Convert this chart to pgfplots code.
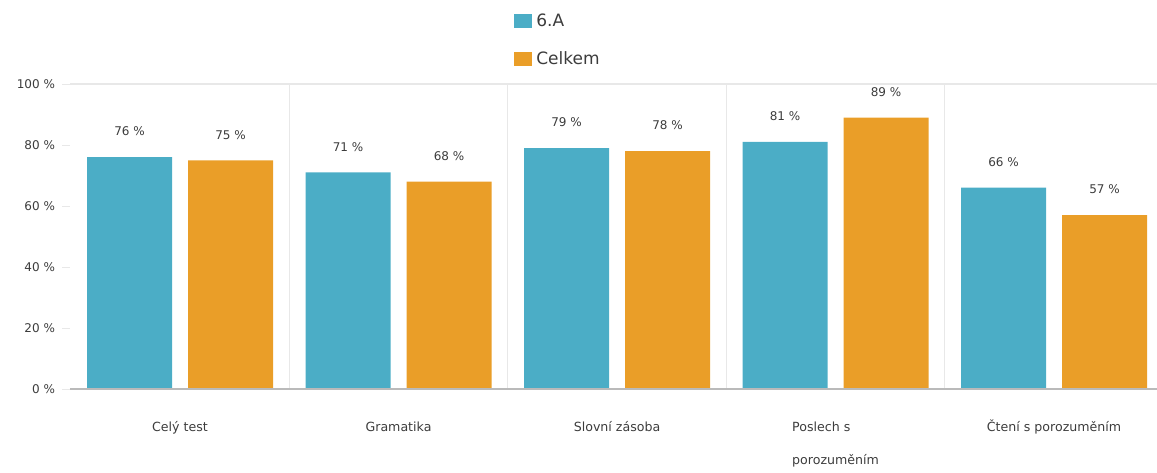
\documentclass[border=0pt]{standalone}
\usepackage{pgfplots}
\pgfplotsset{compat=1.18}
\usepackage{fontspec}
\setmainfont{DejaVu Sans}
\definecolor{cblue}{RGB}{75,173,198}
\definecolor{corange}{RGB}{234,158,40}
\definecolor{txt}{RGB}{60,60,60}
\definecolor{gridc}{RGB}{232,232,232}
\begin{document}
\begin{tikzpicture}
\begin{axis}[
  scale only axis,
  anchor=south west,
  at={(0,0)},
  width=543.5pt, height=152.5pt,
  ybar=8pt, bar width=42.5pt,
  xmin=-0.5034, xmax=4.471,
  ymin=0, ymax=100,
  axis line style={draw=none},
  xtick={0,1,2,3,4},
  xticklabels={\vphantom{Čý}Celý test,\vphantom{Čý}Gramatika,\vphantom{Čý}Slovní zásoba,{\vphantom{Čý}Poslech s\\porozuměním},\vphantom{Čý}Čtení s porozuměním},
  xticklabel style={font=\fontsize{6.3}{16.5}\selectfont, text=txt, align=left, yshift=-8pt},
  major x tick style={draw=none},
  minor xtick={0.5,1.5,2.5,3.5},
  minor x tick style={draw=none},
  xminorgrids=true,
  minor x grid style={gridc, line width=0.5pt},
  ytick={0,20,40,60,80,100},
  yticklabels={0 \%,20 \%,40 \%,60 \%,80 \%,100 \%},
  yticklabel style={font=\fontsize{6}{6}\selectfont, text=txt},
  y tick style={gridc},
  major tick length=4pt,
  tick align=outside,
  ytick pos=left,
  xtick pos=bottom,
  nodes near coords={\pgfmathprintnumber{\pgfplotspointmeta}~\%},
  /pgf/number format/assume math mode=true,
  every node near coord/.append style={font=\fontsize{6}{6}\selectfont, text=txt, yshift=7pt},
  legend style={at={(0.4066,1.252)}, anchor=north west, draw=none, fill=none,
    font=\fontsize{8.5}{10}\selectfont, text=txt, row sep=7pt, inner sep=1pt,
    /tikz/every even column/.append style={column sep=1pt}},
  legend cell align=left,
  legend image code/.code={\fill[#1] (0pt,-3.5pt) rectangle (9pt,3.5pt);},
  clip=false,
]
\addplot[fill=cblue, draw=none] coordinates {(0,76) (1,71) (2,79) (3,81) (4,66)};
\addplot[fill=corange, draw=none] coordinates {(0,75) (1,68) (2,78) (3,89) (4,57)};
\legend{6.A,Celkem}
\draw[gridc, line width=0.6pt] (rel axis cs:0,1) -- (rel axis cs:1,1);
\draw[gridc!80!black, line width=0.6pt] (rel axis cs:0,0) -- (rel axis cs:1,0);
\end{axis}
\pgfresetboundingbox
\path (-35pt,-41.5pt) rectangle (543.5pt,194.5pt);
\end{tikzpicture}
\end{document}
